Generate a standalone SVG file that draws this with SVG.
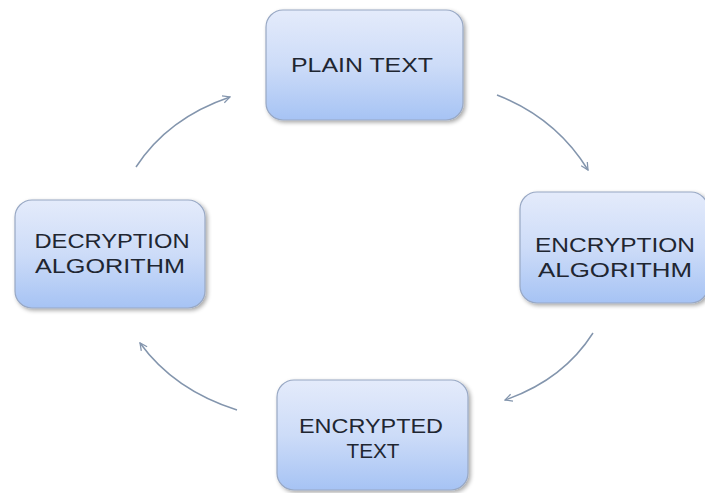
<svg xmlns="http://www.w3.org/2000/svg" width="705" height="493" viewBox="0 0 705 493">
  <defs>
    <linearGradient id="boxGrad" x1="0" y1="0" x2="0" y2="1">
      <stop offset="0" stop-color="#e4ebfb"/>
      <stop offset="0.5" stop-color="#cddcf8"/>
      <stop offset="1" stop-color="#a6c3f4"/>
    </linearGradient>
    <filter id="shadow" x="-10%" y="-10%" width="125%" height="125%">
      <feGaussianBlur in="SourceAlpha" stdDeviation="2"/>
      <feOffset dx="1.5" dy="2" result="b"/>
      <feComponentTransfer><feFuncA type="linear" slope="0.35"/></feComponentTransfer>
      <feMerge><feMergeNode/><feMergeNode in="SourceGraphic"/></feMerge>
    </filter>
    <marker id="arrow" viewBox="0 0 10 10" refX="9" refY="5" markerWidth="9" markerHeight="9" markerUnits="userSpaceOnUse" orient="auto">
      <path d="M1,1 L9,5 L1,9" fill="none" stroke="#8395ad" stroke-width="1.4"/>
    </marker>
  </defs>
  <style>
    .box { fill: url(#boxGrad); stroke: #98a8c4; stroke-width: 1.2; filter: url(#shadow); }
    .lbl { font-family: "Liberation Sans", Arial, sans-serif; font-size: 20.5px; fill: #1f2631; text-anchor: middle; }
    .arc { fill: none; stroke: #8395ad; stroke-width: 1.5; marker-end: url(#arrow); }
  </style>
  <rect width="705" height="493" fill="#ffffff"/>

  <g id="connectors">
    <path class="arc" d="M136,167 Q168,118 230,97"/>
    <path class="arc" d="M497,95 Q556,118 588,170"/>
    <path class="arc" d="M593,333 Q563,380 505,400"/>
    <path class="arc" d="M237,410 Q174,390 140,343"/>
  </g>

  <g id="plain-text">
    <rect class="box" x="266" y="10" width="197" height="110" rx="17"/>
    <text class="lbl" x="362" y="72" textLength="142" lengthAdjust="spacingAndGlyphs">PLAIN TEXT</text>
  </g>

  <g id="encryption-algorithm">
    <rect class="box" x="520" y="192" width="188" height="111" rx="17"/>
    <text class="lbl" x="615" y="252" textLength="160" lengthAdjust="spacingAndGlyphs">ENCRYPTION</text>
    <text class="lbl" x="615" y="277" textLength="154" lengthAdjust="spacingAndGlyphs">ALGORITHM</text>
  </g>

  <g id="encrypted-text">
    <rect class="box" x="277" y="380" width="191" height="110" rx="17"/>
    <text class="lbl" x="371" y="433" textLength="144" lengthAdjust="spacingAndGlyphs">ENCRYPTED</text>
    <text class="lbl" x="373" y="458" textLength="53" lengthAdjust="spacingAndGlyphs">TEXT</text>
  </g>

  <g id="decryption-algorithm">
    <rect class="box" x="15" y="200" width="190" height="108" rx="17"/>
    <text class="lbl" x="112" y="248" textLength="155" lengthAdjust="spacingAndGlyphs">DECRYPTION</text>
    <text class="lbl" x="110" y="273" textLength="150" lengthAdjust="spacingAndGlyphs">ALGORITHM</text>
  </g>
</svg>
